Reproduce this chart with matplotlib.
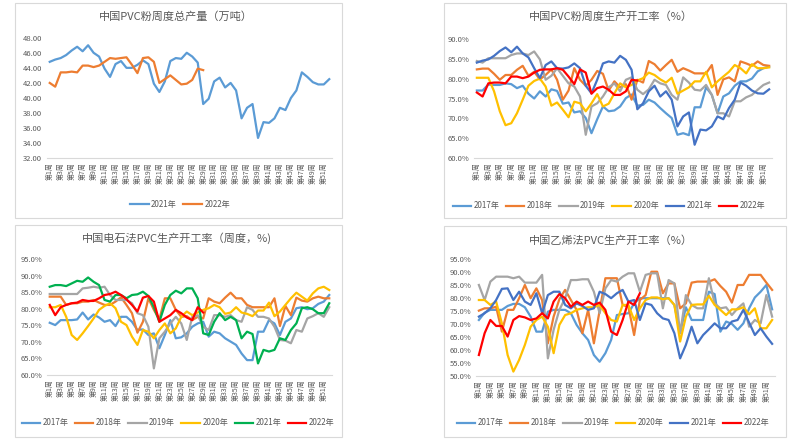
import numpy as np
import matplotlib
matplotlib.use("Agg")
import matplotlib.pyplot as plt
from matplotlib.patches import Rectangle
from matplotlib.ticker import FormatStrFormatter

plt.rcParams['font.family'] = ['Noto Sans CJK SC', 'DejaVu Sans']

weeks = ['第%d周' % i for i in range(1, 53)]

# panel 1: weekly output (10k tons)
out_2021 = [44.8, 45.1, 45.3, 45.7, 46.3, 46.8, 46.2, 47.0, 46.0, 45.5, 43.9, 42.8, 44.5, 44.9, 44.0, 44.0,
            44.4, 45.0, 44.5, 41.9, 40.8, 42.2, 44.9, 45.3, 45.2, 46.0, 45.5, 44.7, 39.2, 39.9, 42.2, 42.7,
            41.4, 42.0, 41.0, 37.3, 38.7, 39.2, 34.7, 36.8, 36.7, 37.3, 38.7, 38.4, 40.0, 41.0, 43.4, 42.8,
            42.1, 41.8, 41.8, 42.5]
out_2022 = [42.0, 41.5, 43.4, 43.4, 43.5, 43.4, 44.3, 44.3, 44.1, 44.3, 44.8, 45.3, 45.2, 45.3, 45.4, 44.4,
            43.3, 45.3, 45.4, 44.8, 42.0, 42.5, 43.0, 42.4, 41.8, 41.9, 42.4, 43.9, 43.7]

# panel 2: PVC overall operating rate (%)
op_2017 = [77.0, 77.0, 78.5, 78.4, 78.4, 78.8, 78.6, 77.6, 78.2, 76.2, 75.0, 76.8, 75.5, 77.3, 76.9, 73.7,
           74.0, 71.5, 71.8, 70.1, 66.3, 69.8, 73.0, 71.8, 72.0, 73.0, 75.1, 76.0, 73.2, 73.4, 74.7, 74.0,
           72.6, 71.3, 70.1, 65.9, 66.3, 65.8, 72.8, 72.8, 77.8, 75.9, 71.3, 75.5, 76.3, 78.2, 79.3, 79.3,
           80.0, 81.8, 82.6, 83.0]
op_2018 = [82.3, 82.5, 82.5, 81.2, 79.7, 80.9, 80.9, 82.2, 83.2, 80.7, 81.7, 79.8, 80.9, 82.3, 79.7, 74.7,
           77.0, 82.6, 79.7, 78.2, 79.7, 81.9, 81.2, 77.0, 79.3, 77.8, 78.6, 74.7, 79.7, 79.0, 84.4, 83.6,
           82.0, 83.4, 84.7, 81.7, 82.6, 82.0, 81.3, 81.3, 81.3, 83.4, 75.9, 79.8, 80.3, 79.3, 84.3, 83.8,
           83.2, 84.3, 83.4, 83.2]
op_2019 = [84.4, 84.0, 85.1, 85.1, 85.1, 85.1, 85.9, 86.3, 86.3, 85.9, 86.8, 84.8, 79.7, 80.7, 82.6, 80.7,
           78.8, 78.0, 75.5, 65.9, 73.0, 73.8, 75.5, 77.8, 78.8, 76.8, 79.7, 80.3, 77.2, 76.1, 77.3, 79.7,
           78.8, 78.4, 75.9, 74.7, 80.3, 79.0, 77.2, 77.0, 78.4, 75.9, 71.3, 71.3, 70.5, 74.3, 74.3, 75.3,
           75.9, 77.2, 78.4, 79.0]
op_2020 = [80.2, 80.2, 80.2, 76.8, 71.8, 68.3, 68.8, 71.3, 74.7, 78.2, 79.4, 80.0, 78.0, 73.2, 74.0, 72.2,
           70.3, 74.2, 73.8, 71.8, 73.8, 76.1, 73.0, 73.7, 76.3, 78.8, 77.8, 78.4, 79.5, 80.1, 81.5, 80.9,
           79.8, 79.0, 80.2, 76.2, 77.0, 77.8, 79.3, 79.3, 81.7, 77.8, 79.3, 80.5, 81.7, 83.4, 82.6, 81.3,
           83.6, 82.6, 82.6, 82.8]
op_2021 = [84.0, 84.5, 84.8, 85.7, 86.9, 87.8, 86.6, 88.0, 86.3, 85.3, 82.6, 80.1, 83.4, 84.3, 82.6, 82.5,
           82.8, 83.8, 82.6, 78.2, 76.3, 79.7, 83.8, 84.3, 84.0, 85.7, 84.7, 82.2, 72.3, 73.8, 76.8, 78.2,
           75.5, 76.8, 74.7, 68.0, 70.5, 71.5, 63.4, 67.2, 67.0, 68.0, 70.5, 69.8, 72.6, 74.7, 79.0, 78.2,
           77.0, 76.3, 76.2, 77.3]
op_2022 = [76.5, 75.5, 78.8, 79.0, 79.0, 78.8, 80.5, 80.5, 80.1, 80.5, 81.5, 82.2, 82.3, 82.3, 82.6, 82.2,
           80.5, 78.6, 82.3, 81.5, 76.2, 77.6, 78.0, 77.2, 75.9, 75.9, 76.8, 79.7, 79.5]

# panel 3: calcium carbide process operating rate (%)
cc_2017 = [75.8, 75.1, 76.6, 76.6, 76.6, 76.8, 78.9, 76.8, 78.3, 77.4, 76.1, 76.6, 74.8, 77.6, 77.6, 76.1,
           73.6, 73.8, 72.1, 72.6, 68.1, 72.1, 76.6, 71.1, 71.4, 72.6, 74.6, 75.6, 76.1, 71.6, 73.1, 72.6,
           71.1, 70.1, 69.1, 66.5, 64.5, 64.5, 73.1, 73.1, 76.6, 75.6, 72.1, 76.1, 77.1, 80.2, 80.5, 79.9,
           80.2, 81.5, 82.2, 84.2]
cc_2018 = [83.7, 83.7, 83.7, 81.2, 81.7, 81.7, 82.2, 82.2, 82.7, 81.9, 81.2, 81.2, 82.2, 83.5, 81.2, 78.7,
           72.8, 76.1, 83.2, 79.7, 76.8, 83.2, 83.2, 79.7, 77.6, 77.8, 76.6, 77.6, 77.1, 83.2, 82.2, 81.7,
           83.4, 84.9, 83.2, 83.2, 81.2, 80.5, 80.5, 80.5, 80.5, 83.2, 74.8, 80.9, 78.1, 83.4, 82.5, 82.2,
           83.2, 83.7, 83.2, 83.2]
cc_2019 = [84.5, 84.5, 84.5, 84.5, 84.5, 84.5, 86.2, 86.4, 86.7, 86.4, 86.7, 84.2, 82.7, 82.7, 82.7, 81.7,
           78.7, 78.1, 74.6, 62.0, 71.1, 73.1, 75.6, 77.6, 75.6, 70.6, 77.6, 78.1, 74.6, 73.6, 78.1, 78.1,
           77.6, 78.1, 76.6, 76.1, 80.5, 79.7, 77.6, 77.6, 77.1, 74.6, 70.6, 70.4, 69.6, 73.6, 73.1, 77.1,
           77.8, 78.7, 77.6, 80.5]
cc_2020 = [80.5, 80.5, 81.2, 77.6, 72.1, 70.6, 72.6, 74.8, 77.1, 79.7, 80.9, 81.7, 80.2, 76.1, 75.1, 71.6,
           69.1, 73.6, 73.1, 71.1, 73.6, 75.6, 72.6, 74.1, 77.6, 79.2, 78.1, 78.9, 79.7, 80.2, 81.2, 80.5,
           78.5, 78.9, 80.5, 78.9, 78.5, 77.8, 79.5, 79.5, 81.9, 77.8, 79.2, 81.2, 83.2, 84.9, 83.7, 82.5,
           84.7, 86.2, 86.7, 85.7]
cc_2021 = [86.7, 87.2, 87.2, 86.9, 87.7, 88.5, 88.2, 89.5, 88.2, 87.2, 82.7, 82.2, 84.2, 84.2, 83.2, 84.2,
           84.4, 85.2, 83.9, 80.5, 76.1, 81.2, 84.2, 85.5, 84.7, 86.2, 86.2, 83.2, 72.6, 72.1, 76.1, 78.7,
           76.6, 77.6, 76.6, 71.1, 73.1, 72.4, 63.5, 67.6, 67.1, 67.6, 71.1, 70.6, 73.6, 75.6, 80.2, 80.5,
           79.9, 78.7, 78.7, 81.7]
cc_2022 = [81.2, 78.1, 80.5, 81.2, 81.7, 81.9, 82.7, 82.4, 82.4, 83.2, 84.2, 84.5, 85.2, 84.2, 82.9, 81.2,
           79.2, 83.4, 83.9, 82.2, 76.1, 77.1, 78.1, 79.7, 78.7, 77.4, 76.6, 80.5, 78.9]

# panel 4: ethylene process operating rate (%)
et_2017 = [71.6, 74.4, 75.5, 75.5, 75.5, 77.0, 77.8, 77.8, 76.5, 72.9, 67.1, 67.1, 74.8, 75.5, 75.5, 75.5,
           74.2, 69.7, 66.5, 63.9, 58.1, 55.5, 58.8, 63.9, 73.5, 73.9, 74.2, 78.0, 80.0, 80.0, 80.0, 80.0,
           80.0, 80.0, 77.4, 66.5, 76.5, 71.6, 71.6, 71.6, 82.5, 81.6, 67.1, 71.0, 70.1, 67.8, 70.3, 76.1,
           80.3, 82.5, 85.1, 75.7]
et_2018 = [75.2, 76.1, 76.1, 76.7, 67.1, 75.5, 75.5, 80.0, 85.1, 80.0, 83.8, 79.3, 62.6, 72.9, 79.6, 83.2,
           79.3, 75.5, 66.5, 75.5, 62.6, 75.2, 87.7, 87.7, 87.7, 77.4, 76.7, 65.8, 79.3, 81.2, 90.2, 90.2,
           81.9, 85.7, 85.7, 76.1, 78.0, 86.0, 86.4, 86.4, 86.4, 87.3, 84.7, 82.5, 78.3, 85.1, 85.1, 89.0,
           89.0, 89.0, 86.0, 83.2]
et_2019 = [85.1, 79.3, 86.4, 88.3, 88.3, 88.3, 87.7, 88.3, 86.0, 86.0, 86.0, 89.0, 56.8, 67.8, 75.5, 80.0,
           87.0, 87.0, 87.3, 87.3, 82.5, 74.2, 83.8, 87.0, 86.4, 88.3, 89.6, 89.6, 82.5, 89.0, 89.6, 89.6,
           76.1, 87.0, 85.7, 66.5, 81.2, 77.4, 76.1, 76.1, 87.7, 78.0, 76.1, 76.5, 73.5, 76.1, 78.0, 69.0,
           71.6, 70.3, 81.2, 72.9]
et_2020 = [79.3, 79.3, 77.4, 78.7, 70.3, 58.1, 51.7, 56.2, 62.0, 69.0, 71.6, 72.9, 69.0, 58.8, 69.7, 73.5,
           74.2, 75.5, 76.1, 76.5, 76.5, 77.4, 74.2, 71.6, 71.0, 77.4, 77.4, 71.6, 76.1, 79.3, 80.3, 80.3,
           79.6, 80.0, 77.4, 63.3, 72.9, 77.4, 77.6, 77.6, 80.9, 77.4, 75.5, 73.5, 75.7, 75.7, 76.5, 73.8,
           76.1, 68.4, 68.4, 71.6]
et_2021 = [72.9, 74.2, 76.1, 79.3, 83.6, 83.8, 79.3, 82.5, 78.7, 77.4, 81.9, 74.2, 81.2, 82.5, 82.5, 77.4,
           76.1, 78.0, 77.0, 75.5, 76.1, 82.5, 81.6, 80.0, 81.9, 83.2, 78.7, 79.3, 71.6, 78.0, 77.4, 74.2,
           72.2, 71.6, 66.5, 56.8, 62.0, 69.0, 62.6, 65.8, 68.0, 70.3, 68.4, 68.4, 71.0, 71.6, 75.5, 70.6,
           65.8, 68.4, 65.2, 62.4]
et_2022 = [58.1, 66.5, 71.6, 69.3, 69.3, 65.2, 71.6, 73.1, 72.6, 71.6, 72.2, 74.2, 72.2, 78.7, 81.6, 80.0,
           76.7, 78.7, 77.4, 78.7, 77.4, 78.3, 75.5, 67.1, 65.8, 71.6, 78.7, 77.4, 81.9]

years = ['2017年', '2018年', '2019年', '2020年', '2021年', '2022年']
colors = ['#5B9BD5', '#ED7D31', '#A5A5A5', '#FFC000', '#4472C4', '#FF0000']

W, H = 789, 443
fig = plt.figure(figsize=(W / 100, H / 100), dpi=100)
txt = '#595959'


def px_axes(x0, x1, ytop, ybot):
    return fig.add_axes([x0 / W, 1 - ybot / H, (x1 - x0) / W, (ybot - ytop) / H])


def frame(x0, y0, x1, y1):
    fig.patches.append(Rectangle((x0 / W, 1 - y1 / H), (x1 - x0) / W, (y1 - y0) / H,
                                 transform=fig.transFigure, fill=False, edgecolor='#d9d9d9', lw=0.8))


def style(ax, lo, hi, step, fmt):
    ax.set_xlim(-0.5, 51.5)
    ax.set_ylim(lo, hi)
    ax.set_yticks(np.arange(lo, hi + step / 2, step))
    ax.yaxis.set_major_formatter(FormatStrFormatter(fmt))
    ax.set_xticks(range(0, 52, 2))
    ax.set_xticklabels(weeks[::2], rotation=90, fontsize=5, color=txt)
    ax.tick_params(axis='both', length=0, labelsize=5.5, labelcolor=txt)
    ax.tick_params(axis='x', labelsize=5, pad=3)
    for s in ['top', 'right', 'left']:
        ax.spines[s].set_visible(False)
    ax.spines['bottom'].set_color('#d9d9d9')
    ax.patch.set_alpha(0)


def plot_series(ax, series, labels, cols):
    for y, lab, c in zip(series, labels, cols):
        ax.plot(range(len(y)), y, color=c, lw=1.6, label=lab, solid_joinstyle='round')


def legend(ax, cx, cy, n):
    ax.legend(loc='center', bbox_to_anchor=(cx / W, 1 - cy / H), bbox_transform=fig.transFigure,
              ncol=n, frameon=False, fontsize=5.8, handlelength=2.3, columnspacing=0.8,
              handletextpad=0.3, labelcolor=txt)


frame(15, 3, 342, 218)
frame(444, 3, 786, 218)
frame(15, 225, 342, 437)
frame(444, 226, 786, 437)

# panel 1
ax1 = px_axes(47, 332, 37.7, 158.3)
plot_series(ax1, [out_2021, out_2022], ['2021年', '2022年'], ['#5B9BD5', '#ED7D31'])
style(ax1, 32, 48, 2, '%.2f')
legend(ax1, 180, 204, 2)
fig.text(176 / W, 1 - 17 / H, '中国PVC粉周度总产量（万吨）', ha='center', va='center', fontsize=8, color=txt)

# panel 2
ax2 = px_axes(474, 772, 38.7, 158.3)
plot_series(ax2, [op_2017, op_2018, op_2019, op_2020, op_2021, op_2022], years, colors)
style(ax2, 60, 90, 5, '%.1f%%')
legend(ax2, 609, 206, 6)
fig.text(611 / W, 1 - 17 / H, '中国PVC粉周度生产开工率（%）', ha='center', va='center', fontsize=8, color=txt)

# panel 3
ax3 = px_axes(47, 332, 259.3, 375)
plot_series(ax3, [cc_2017, cc_2018, cc_2019, cc_2020, cc_2021, cc_2022], years,
            colors[:4] + ['#00B050', '#FF0000'])
style(ax3, 60, 95, 5, '%.1f%%')
legend(ax3, 178, 423, 6)
fig.text(177 / W, 1 - 238 / H, '中国电石法PVC生产开工率（周度，%)', ha='center', va='center', fontsize=8, color=txt)

# panel 4
ax4 = px_axes(476, 775, 259.3, 376)
plot_series(ax4, [et_2017, et_2018, et_2019, et_2020, et_2021, et_2022], years, colors)
style(ax4, 50, 95, 5, '%.1f%%')
legend(ax4, 613, 423, 6)
fig.text(611 / W, 1 - 241 / H, '中国乙烯法PVC生产开工率（%）', ha='center', va='center', fontsize=8, color=txt)

fig.savefig('out.png', dpi=100)
